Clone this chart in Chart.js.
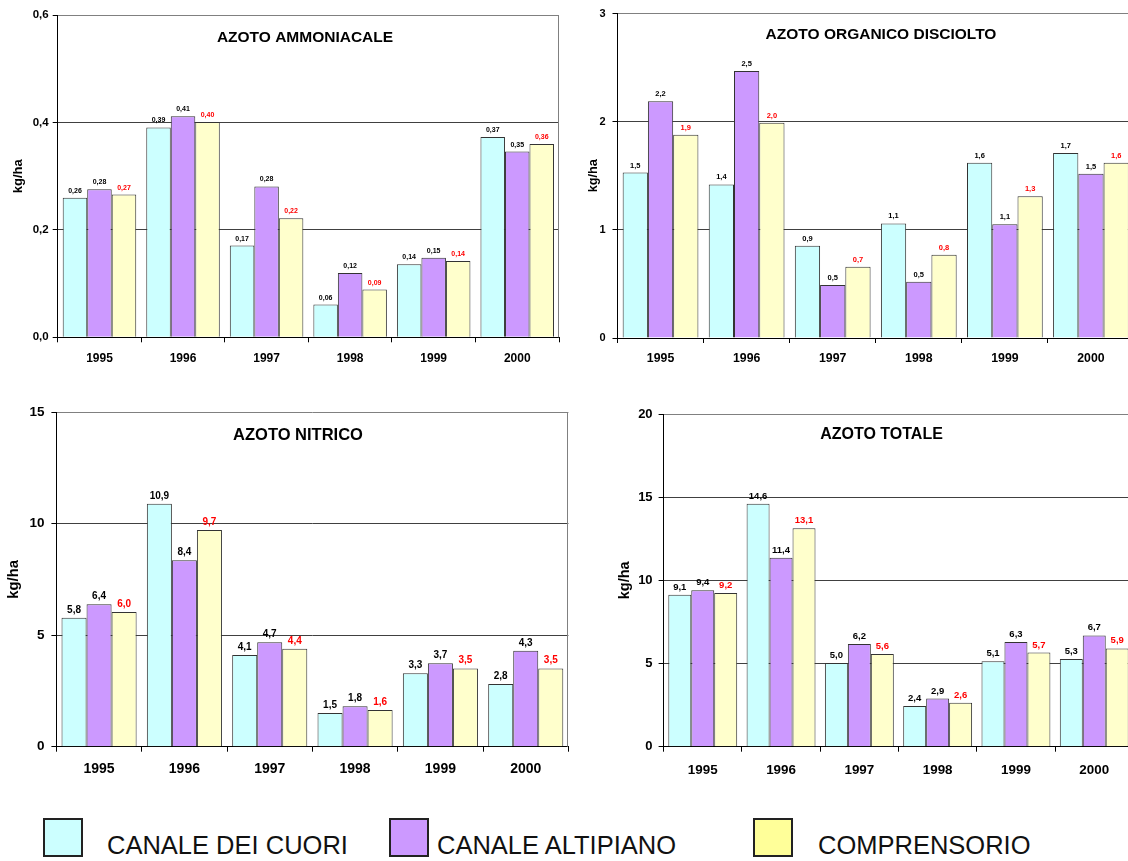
<!DOCTYPE html>
<html lang="it">
<head>
<meta charset="utf-8">
<title>Azoto - carichi per ettaro 1995-2000</title>
<script src="https://cdn.jsdelivr.net/npm/chart.js@4.4.1/dist/chart.umd.min.js"></script>
<style>
  html, body { margin: 0; padding: 0; background: #fff; overflow: hidden; }
  body { width: 1128px; height: 861px; position: relative; font-family: 'Liberation Sans', Arial, sans-serif; }
  canvas { position: absolute; }
  .leg-box { position: absolute; width: 36px; height: 35px; border: 2px solid #222; }
  .leg-text { position: absolute; font-size: 25.5px; line-height: 1; color: #111; white-space: nowrap; }
</style>
</head>
<body>
<canvas id="c-ammo" width="565" height="380" style="left:0;top:0"></canvas>
<canvas id="c-org" width="575" height="380" style="left:565px;top:0"></canvas>
<canvas id="c-nit" width="570" height="395" style="left:0;top:395px"></canvas>
<canvas id="c-tot" width="570" height="395" style="left:570px;top:395px"></canvas>

<div id="legend"></div>

<script>
/* ---------- data (kg/ha) ---------- */

const YEARS = ['1995', '1996', '1997', '1998', '1999', '2000'];
const SERIES_NAMES = ['CANALE DEI CUORI', 'CANALE ALTIPIANO', 'COMPRENSORIO'];

// azoto ammoniacale
const AMMO_CUORI = [0.26, 0.391, 0.171, 0.061, 0.136, 0.373];
const AMMO_ALTIPIANO = [0.276, 0.412, 0.281, 0.12, 0.148, 0.346];
const AMMO_COMPRENSORIO = [0.266, 0.401, 0.222, 0.089, 0.142, 0.36];
const AMMO_YTICKS = [0, 0.2, 0.4, 0.6];

// azoto organico disciolto
const ORG_CUORI = [1.53, 1.42, 0.853, 1.06, 1.62, 1.71];
const ORG_ALTIPIANO = [2.19, 2.47, 0.49, 0.52, 1.051, 1.52];
const ORG_COMPRENSORIO = [1.88, 1.99, 0.66, 0.77, 1.31, 1.62];
const ORG_YTICKS = [0, 1, 2, 3];

// azoto nitrico
const NIT_CUORI = [5.78, 10.89, 4.11, 1.51, 3.29, 2.81];
const NIT_ALTIPIANO = [6.38, 8.36, 4.68, 1.81, 3.74, 4.3];
const NIT_COMPRENSORIO = [6.04, 9.71, 4.39, 1.64, 3.51, 3.51];
const NIT_YTICKS = [0, 5, 10, 15];

// azoto totale
const TOT_CUORI = [9.14, 14.61, 5.03, 2.44, 5.13, 5.27];
const TOT_ALTIPIANO = [9.4, 11.36, 6.17, 2.89, 6.29, 6.69];
const TOT_COMPRENSORIO = [9.24, 13.13, 5.57, 2.64, 5.66, 5.91];
const TOT_YTICKS = [0, 5, 10, 15, 20];

/* ---------- look ---------- */

const FONT = "'Liberation Sans', Arial, sans-serif";
const BAR_FILL = ['#CCFFFF', '#CC99FF', '#FFFFCC'];
const LEGEND_FILL = ['#CCFFFF', '#CC99FF', '#FFFF99'];

// box/area in page pixels: [left, top, right, bottom]
const PANELS = [
  { id: 'c-ammo', title: 'AZOTO AMMONIACALE', ticks: AMMO_YTICKS,
    series: [AMMO_CUORI, AMMO_ALTIPIANO, AMMO_COMPRENSORIO], dec: 2, decY: 1,
    box: [0, 0, 565, 380], area: [57.7, 15.3, 559, 337.3],
    tickSize: 11.5, tickPad: 4, xSize: 12, xCenter: 359, yTitleSize: 13, yTitleX: 18,
    labelSize: 7, titleSize: 15.5, titleAt: [305, 37.5] },
  { id: 'c-org', title: 'AZOTO ORGANICO DISCIOLTO', ticks: ORG_YTICKS,
    series: [ORG_CUORI, ORG_ALTIPIANO, ORG_COMPRENSORIO], dec: 1, decY: 0,
    box: [565, 0, 1140, 380], area: [617.5, 13.3, 1134, 338],
    tickSize: 11, tickPad: 7, xSize: 12.3, xCenter: 359, yTitleSize: 12.7, yTitleX: 593,
    labelSize: 7.5, titleSize: 15.5, titleAt: [881, 34.7] },
  { id: 'c-nit', title: 'AZOTO NITRICO', ticks: NIT_YTICKS,
    series: [NIT_CUORI, NIT_ALTIPIANO, NIT_COMPRENSORIO], dec: 1, decY: 0,
    box: [0, 395, 570, 790], area: [56.4, 412, 568.4, 746.7],
    tickSize: 13.5, tickPad: 7, xSize: 14, xCenter: 769, yTitleSize: 14.8, yTitleX: 13.8,
    labelSize: 10, titleSize: 16.5, titleAt: [298, 435] },
  { id: 'c-tot', title: 'AZOTO TOTALE', ticks: TOT_YTICKS,
    series: [TOT_CUORI, TOT_ALTIPIANO, TOT_COMPRENSORIO], dec: 1, decY: 0,
    box: [570, 395, 1140, 790], area: [663.6, 414, 1133.4, 746.7],
    tickSize: 13, tickPad: 6, xSize: 13.4, xCenter: 770, yTitleSize: 14.5, yTitleX: 625,
    labelSize: 9.5, titleSize: 16, titleAt: [881.5, 435] }
];

/* ---------- plugins ---------- */

function fmtComma(v, dec) {
  return Number(v).toFixed(dec).replace('.', ',');
}

// value labels on top of every bar; the third series is written in red
const barLabels = {
  id: 'barLabels',
  afterDatasetsDraw(chart, args, opts) {
    const ctx = chart.ctx;
    ctx.save();
    ctx.font = 'bold ' + opts.size + 'px ' + FONT;
    ctx.textAlign = 'center';
    ctx.textBaseline = 'alphabetic';
    chart.data.datasets.forEach((ds, di) => {
      ctx.fillStyle = di === 2 ? '#FF0000' : '#000';
      chart.getDatasetMeta(di).data.forEach((bar, i) => {
        ctx.fillText(fmtComma(ds.data[i], opts.dec), bar.x, bar.y - 5);
      });
    });
    ctx.restore();
  }
};

// title sits inside the plot area, Excel style
const panelTitle = {
  id: 'panelTitle',
  afterDraw(chart, args, opts) {
    const ctx = chart.ctx;
    ctx.save();
    ctx.font = 'bold ' + opts.size + 'px ' + FONT;
    ctx.fillStyle = '#000';
    ctx.textAlign = 'center';
    ctx.textBaseline = 'middle';
    ctx.fillText(opts.text, opts.x, opts.y);
    ctx.restore();
  }
};

// grey right edge of the plot area
const plotFrame = {
  id: 'plotFrame',
  beforeDatasetsDraw(chart) {
    const { ctx, chartArea: a } = chart;
    const x = Math.round(a.right) - 0.5;
    ctx.save();
    ctx.strokeStyle = '#808080';
    ctx.lineWidth = 1;
    ctx.beginPath();
    ctx.moveTo(x, a.top);
    ctx.lineTo(x, a.bottom);
    ctx.stroke();
    ctx.restore();
  }
};

/* ---------- charts ---------- */

function renderPanel(p) {
  const [bx0, by0, bx1, by1] = p.box;
  const [ax0, ay0, ax1, ay1] = p.area;
  const yMax = p.ticks[p.ticks.length - 1];
  const xPad = p.xCenter - ay1 - 5 - p.xSize * 0.6;
  const yTitlePad = p.yTitleX - bx0 - p.yTitleSize * 0.6;

  const datasets = p.series.map((data, i) => ({
    label: SERIES_NAMES[i],
    data,
    backgroundColor: BAR_FILL[i],
    borderColor: '#333',
    borderWidth: 1,
    categoryPercentage: 0.88,
    barPercentage: 1
  }));

  new Chart(document.getElementById(p.id), {
    type: 'bar',
    data: { labels: YEARS, datasets },
    plugins: [plotFrame, barLabels, panelTitle],
    options: {
      responsive: false,
      animation: false,
      devicePixelRatio: 1,
      layout: { padding: { top: ay0 - by0, right: bx1 - ax1, left: 0, bottom: 0 } },
      plugins: {
        legend: { display: false },
        tooltip: { enabled: false },
        barLabels: { size: p.labelSize, dec: p.dec },
        panelTitle: { text: p.title, size: p.titleSize, x: p.titleAt[0] - bx0, y: p.titleAt[1] - by0 }
      },
      scales: {
        x: {
          ticks: {
            color: '#000', padding: xPad, maxRotation: 0, autoSkip: false,
            font: { family: FONT, size: p.xSize, weight: 'bold' }
          },
          grid: { display: true, drawOnChartArea: false, drawTicks: true, tickLength: 5, color: '#000', offset: true },
          border: { color: '#000', width: 1 },
          afterFit: s => { s.height = by1 - ay1; }
        },
        y: {
          min: 0,
          max: yMax,
          afterBuildTicks: s => { s.ticks = p.ticks.map(v => ({ value: v })); },
          ticks: {
            color: '#000', padding: p.tickPad,
            font: { family: FONT, size: p.tickSize, weight: 'bold' },
            callback: v => fmtComma(v, p.decY)
          },
          grid: {
            color: c => (c.tick && c.tick.value === yMax ? '#808080' : '#404040'),
            tickColor: '#000', tickLength: 5, lineWidth: 1
          },
          border: { color: '#000', width: 1 },
          title: {
            display: true, text: 'kg/ha', color: '#000',
            font: { family: FONT, size: p.yTitleSize, weight: 'bold' },
            padding: { top: yTitlePad, bottom: 0 }
          },
          afterFit: s => { s.width = ax0 - bx0; }
        }
      }
    }
  });
}

PANELS.forEach(renderPanel);

/* ---------- shared legend ---------- */

const LEGEND_BOX_X = [43, 389, 753];
const LEGEND_TEXT_X = [107, 437, 818];

document.getElementById('legend').innerHTML = SERIES_NAMES.map((name, i) =>
  '<div class="leg-box" style="left:' + LEGEND_BOX_X[i] + 'px;top:818px;background:' + LEGEND_FILL[i] + '"></div>' +
  '<div class="leg-text" style="left:' + LEGEND_TEXT_X[i] + 'px;top:833px">' + name + '</div>'
).join('');
</script>
</body>
</html>
